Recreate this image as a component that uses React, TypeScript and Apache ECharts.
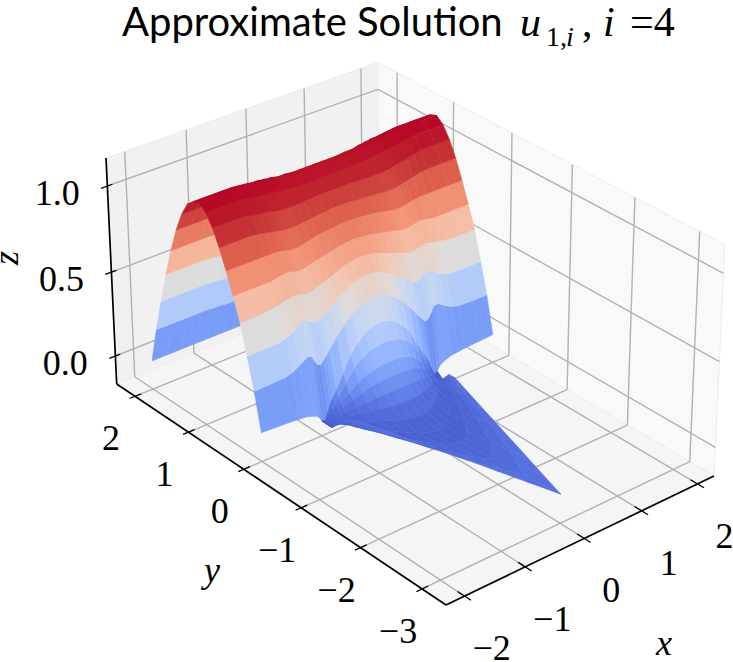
import React, { useEffect, useRef } from "react";
import * as echarts from "echarts";

const xTicks = [-2, -1, 0, 1, 2];
const yTicks = [-3, -2, -1, 0, 1, 2];
const zTicks = [0, 0.5, 1];
const xTickLabels = ["−2", "−1", "0", "1", "2"];
const yTickLabels = ["−3", "−2", "−1", "0", "1", "2"];
const zTickLabels = ["0.0", "0.5", "1.0"];

// |x| sample positions; the surface reads as mirror-symmetric about x = 0
const absX = [0, 0.125, 0.25, 0.375, 0.5, 0.625, 0.75, 0.8, 0.85, 0.9, 0.95, 1, 1.05, 1.12, 1.25, 1.375, 1.5, 1.75, 2];
const bandY = [2, 1.889, 1.778, 1.667, 1.556, 1.444, 1.333, 1.222, 1.111, 1, 0.889, 0.778, 0.667, 0.556, 0.444, 0.333, 0.222, 0.111, 0];
const bandZ = [
  [0, 0, 0, 0, 0, 0, 0, 0, 0, 0, 0, 0, 0, 0, 0, 0, 0, 0, 0],
  [0.2, 0.2, 0.2, 0.2, 0.2, 0.2, 0.2, 0.2, 0.2, 0.205, 0.205, 0.205, 0.205, 0.21, 0.21, 0.21, 0.21, 0.21, 0.21],
  [0.38, 0.38, 0.38, 0.38, 0.38, 0.38, 0.385, 0.385, 0.385, 0.39, 0.39, 0.39, 0.395, 0.395, 0.4, 0.4, 0.4, 0.4, 0.4],
  [0.55, 0.55, 0.55, 0.55, 0.55, 0.55, 0.555, 0.555, 0.56, 0.56, 0.565, 0.565, 0.57, 0.57, 0.575, 0.58, 0.58, 0.58, 0.58],
  [0.71, 0.71, 0.71, 0.71, 0.71, 0.71, 0.715, 0.715, 0.72, 0.72, 0.725, 0.725, 0.73, 0.73, 0.735, 0.74, 0.74, 0.74, 0.74],
  [0.85, 0.85, 0.85, 0.85, 0.85, 0.85, 0.855, 0.855, 0.86, 0.86, 0.865, 0.865, 0.87, 0.87, 0.875, 0.88, 0.88, 0.88, 0.88],
  [0.95, 0.95, 0.95, 0.95, 0.95, 0.955, 0.96, 0.96, 0.965, 0.965, 0.97, 0.97, 0.975, 0.975, 0.98, 0.985, 0.99, 0.99, 0.99],
  [1.025, 1.025, 1.025, 1.025, 1.03, 1.03, 1.035, 1.04, 1.04, 1.04, 1.045, 1.05, 1.05, 1.055, 1.06, 1.065, 1.07, 1.07, 1.07],
  [1.065, 1.065, 1.065, 1.065, 1.07, 1.07, 1.08, 1.08, 1.085, 1.085, 1.09, 1.09, 1.09, 1.095, 1.1, 1.105, 1.105, 1.105, 1.105],
  [1.08, 1.08, 1.08, 1.08, 1.085, 1.09, 1.095, 1.1, 1.1, 1.105, 1.105, 1.11, 1.11, 1.11, 1.115, 1.115, 1.12, 1.12, 1.12],
  [1.04, 1.04, 1.04, 1.04, 1.04, 1.045, 1.05, 1.05, 1.055, 1.055, 1.06, 1.06, 1.06, 1.065, 1.07, 1.08, 1.085, 1.085, 1.085],
  [0.98, 0.98, 0.98, 0.975, 0.975, 0.975, 0.975, 0.975, 0.975, 0.98, 0.98, 0.985, 0.99, 0.995, 1.0, 1.01, 1.02, 1.02, 1.02],
  [0.91, 0.91, 0.905, 0.905, 0.9, 0.895, 0.89, 0.89, 0.89, 0.89, 0.89, 0.895, 0.9, 0.905, 0.915, 0.925, 0.93, 0.93, 0.93],
  [0.84, 0.84, 0.835, 0.83, 0.825, 0.815, 0.805, 0.8, 0.8, 0.8, 0.8, 0.805, 0.81, 0.815, 0.82, 0.82, 0.82, 0.82, 0.82],
  [0.76, 0.755, 0.75, 0.74, 0.73, 0.72, 0.71, 0.705, 0.7, 0.7, 0.7, 0.705, 0.71, 0.715, 0.71, 0.7, 0.7, 0.7, 0.7],
  [0.68, 0.675, 0.665, 0.65, 0.63, 0.615, 0.6, 0.59, 0.585, 0.585, 0.59, 0.595, 0.6, 0.605, 0.595, 0.585, 0.575, 0.57, 0.57],
  [0.6, 0.59, 0.575, 0.55, 0.52, 0.49, 0.455, 0.44, 0.435, 0.44, 0.45, 0.465, 0.47, 0.465, 0.43, 0.41, 0.4, 0.4, 0.4],
  [0.49, 0.48, 0.46, 0.43, 0.39, 0.34, 0.28, 0.255, 0.235, 0.215, 0.22, 0.25, 0.285, 0.29, 0.26, 0.235, 0.225, 0.22, 0.22],
  [0.36, 0.35, 0.33, 0.29, 0.24, 0.15, 0.07, 0.04, 0.01, -0.04, -0.08, -0.08, -0.05, -0.035, -0.02, -0.015, -0.01, -0.005, 0],
];
// wedge below y = 0: each row runs corner to corner, reaching y = -depth at x = 0
const wedgeDepth = [0.08, 0.17, 0.27, 0.38, 0.5, 0.7, 1, 1.4, 1.9, 2.4, 3];
const wedgeZ = [
  [0.26, 0.25, 0.24, 0.21, 0.17, 0.1, 0.03, 0, -0.03, -0.06, -0.09, -0.08],
  [0.16, 0.16, 0.15, 0.13, 0.1, 0.05, 0.01, -0.01, -0.04, -0.07, -0.1, -0.08],
  [0.1, 0.1, 0.09, 0.08, 0.05, 0.02, -0.01, -0.03, -0.05, -0.07, -0.1, -0.08],
  [0.05, 0.05, 0.04, 0.03, 0.01, -0.01, -0.03, -0.05, -0.06, -0.08, -0.1, -0.08],
  [0, 0, -0.01, -0.01, -0.02, -0.03, -0.05, -0.06, -0.07, -0.08, -0.1, -0.08],
  [-0.05, -0.05, -0.05, -0.05, -0.05, -0.06, -0.06, -0.07, -0.07, -0.08, -0.1, -0.08],
  [-0.07, -0.07, -0.07, -0.07, -0.07, -0.07, -0.07, -0.07, -0.07, -0.08, -0.1, -0.08],
  [-0.06, -0.06, -0.06, -0.06, -0.06, -0.06, -0.06, -0.06, -0.06, -0.07, -0.1, -0.08],
  [-0.04, -0.04, -0.04, -0.04, -0.04, -0.04, -0.04, -0.04, -0.04, -0.05, -0.1, -0.08],
  [-0.02, -0.02, -0.02, -0.02, -0.02, -0.02, -0.02, -0.02, -0.02, -0.03, -0.09, -0.08],
  [0, 0, 0, 0, 0, 0, 0, 0, 0, -0.02, -0.09, -0.08],
];

const coolwarm = [
  [59, 76, 192], [85, 112, 222], [123, 159, 249], [160, 190, 254], [192, 212, 245], [221, 220, 220],
  [245, 196, 173], [244, 152, 122], [222, 97, 77], [192, 40, 47], [180, 4, 38],
];
const colorRange = [-0.14, 1.12];
const xLim = [-2.3, 2.3];
const yLim = [-3.38, 2.35];
const zLim = [-0.17, 1.16];

// camera: floor corners on the page and the vanishing point of vertical lines
const F = [446, 605], R = [714, 476], B = [379, 279], L = [116.7, 384];
const VP = [418, 6750];
const leftTopY = 158;

const dx1 = R[0] - B[0], dx2 = L[0] - B[0], sx = F[0] - R[0] + B[0] - L[0];
const dy1 = R[1] - B[1], dy2 = L[1] - B[1], sy = F[1] - R[1] + B[1] - L[1];
const den = dx1 * dy2 - dx2 * dy1;
const g = (sx * dy2 - dx2 * sy) / den;
const h = (dx1 * sy - sx * dy1) / den;
const a = R[0] - F[0] + g * R[0], b = L[0] - F[0] + h * L[0], c = F[0];
const d = R[1] - F[1] + g * R[1], e = L[1] - F[1] + h * L[1], f = F[1];
const K = ((1 + h) * (leftTopY - L[1])) / (VP[1] - leftTopY);

function homog(x: number, y: number, z: number) {
  const u = (x - xLim[0]) / (xLim[1] - xLim[0]);
  const v = (y - yLim[0]) / (yLim[1] - yLim[0]);
  const t = (z - zLim[0]) / (zLim[1] - zLim[0]);
  return [a * u + b * v + c + t * K * VP[0], d * u + e * v + f + t * K * VP[1], 1 + g * u + h * v + t * K];
}
function project(x: number, y: number, z: number) {
  const p = homog(x, y, z);
  return [p[0] / p[2], p[1] / p[2]];
}
function colorOf(z: number) {
  const s = Math.max(0, Math.min(1, (z - colorRange[0]) / (colorRange[1] - colorRange[0]))) * (coolwarm.length - 1);
  const i = Math.min(coolwarm.length - 2, Math.floor(s));
  const m = s - i;
  const q = coolwarm[i].map((v, k) => Math.round(v + (coolwarm[i + 1][k] - v) * m));
  return `rgb(${q[0]},${q[1]},${q[2]})`;
}

type P3 = [number, number, number];
function buildFacets() {
  const signed = [...absX.slice(1).reverse().map((v, i) => ({ x: -v, k: absX.length - 1 - i })), ...absX.map((v, k) => ({ x: v, k }))];
  const out: { pts: P3[]; color: string; depth: number }[] = [];
  const push = (pts: P3[]) => {
    const mean = pts.reduce((s, p) => s + p[2], 0) / 4;
    const depth = pts.reduce((s, p) => s + homog(p[0], p[1], p[2])[2], 0);
    out.push({ pts, color: colorOf(mean), depth });
  };
  for (let r = 0; r < bandY.length - 1; r++) {
    for (let i = 0; i < signed.length - 1; i++) {
      const A = signed[i], C = signed[i + 1];
      push([
        [A.x, bandY[r], bandZ[r][A.k]],
        [C.x, bandY[r], bandZ[r][C.k]],
        [C.x, bandY[r + 1], bandZ[r + 1][C.k]],
        [A.x, bandY[r + 1], bandZ[r + 1][A.k]],
      ]);
    }
  }
  const inner = signed.filter((s) => Math.abs(s.x) <= 1);
  const rowZ = [bandZ[bandZ.length - 1], ...wedgeZ];
  const rowD = [0, ...wedgeDepth];
  // rows are rounded near y = 0 and become the straight wedge edges at the tip
  const yAt = (s: { x: number }, dep: number) => -dep * (1 - Math.pow(Math.abs(s.x), 2 - dep / 3));
  for (let r = 0; r < rowD.length - 1; r++) {
    for (let i = 0; i < inner.length - 1; i++) {
      const A = inner[i], C = inner[i + 1];
      push([
        [A.x, yAt(A, rowD[r]), rowZ[r][A.k]],
        [C.x, yAt(C, rowD[r]), rowZ[r][C.k]],
        [C.x, yAt(C, rowD[r + 1]), rowZ[r + 1][C.k]],
        [A.x, yAt(A, rowD[r + 1]), rowZ[r + 1][A.k]],
      ]);
    }
  }
  return out.sort((p, q) => q.depth - p.depth);
}

const GRID = "#b2b2b2";

export default function App() {
  const ref = useRef<HTMLDivElement>(null);
  useEffect(() => {
    document.body.style.margin = "0";
    const chart = echarts.init(ref.current!, undefined, { renderer: "svg" });
    const [x0, x1] = xLim, [y0, y1] = yLim, [z0, z1] = zLim;

    const panes = [
      { pts: [[x0, y1, z0], [x1, y1, z0], [x1, y1, z1], [x0, y1, z1]], fill: "#f1f1f1" },
      { pts: [[x1, y1, z0], [x1, y0, z0], [x1, y0, z1], [x1, y1, z1]], fill: "#f9f9f9" },
      { pts: [[x0, y0, z0], [x1, y0, z0], [x1, y1, z0], [x0, y1, z0]], fill: "#f5f5f5" },
    ];
    const gridLines: number[][][] = [];
    xTicks.forEach((t) => {
      gridLines.push([[t, y0, z0], [t, y1, z0]], [[t, y1, z0], [t, y1, z1]]);
    });
    yTicks.forEach((t) => {
      gridLines.push([[x0, t, z0], [x1, t, z0]], [[x1, t, z0], [x1, t, z1]]);
    });
    zTicks.forEach((t) => {
      gridLines.push([[x0, y1, t], [x1, y1, t]], [[x1, y1, t], [x1, y0, t]]);
    });
    const axisLines = [
      [[x0, y0, z0], [x0, y1, z0]],
      [[x0, y0, z0], [x1, y0, z0]],
      [[x0, y1, z0], [x0, y1, z1]],
    ];
    const tickLines: number[][][] = [];
    xTicks.forEach((t) => tickLines.push([[t, y0 - 0.1, z0], [t, y0 + 0.11, z0]]));
    yTicks.forEach((t) => tickLines.push([[x0 - 0.09, t, z0], [x0 + 0.1, t, z0]]));
    zTicks.forEach((t) => tickLines.push([[x0 - 0.1, y1, t], [x0 + 0.08, y1, t]]));

    const labels: { text: string; at: number[]; off: number[]; italic?: boolean; rot?: number }[] = [];
    xTicks.forEach((t, i) => labels.push({ text: xTickLabels[i], at: [t, y0, z0], off: [27, 52] }));
    yTicks.forEach((t, i) => labels.push({ text: yTickLabels[i], at: [x0, t, z0], off: [-24, 42] }));
    zTicks.forEach((t, i) => labels.push({ text: zTickLabels[i], at: [x0, y1, t], off: [-50, 7] }));
    labels.push({ text: "x", at: [x1, y0, z0], off: [-50, 167], italic: true });
    labels.push({ text: "y", at: [x0, y0, z0], off: [-234, -35], italic: true });
    labels.push({ text: "z", at: [x0, y1, z1], off: [-100, 100], italic: true, rot: Math.PI / 2 });

    const facets = buildFacets();
    const idx = (arr: unknown[]) => arr.map((_, i) => [i]);
    const proj = (api: any, p: number[]) => api.coord(project(p[0], p[1], p[2]));
    const lineItem = (api: any, l: number[][], stroke: string, lineWidth: number) => {
      const s = proj(api, l[0]), t = proj(api, l[1]);
      return { type: "line", shape: { x1: s[0], y1: s[1], x2: t[0], y2: t[1] }, style: { stroke, lineWidth, lineCap: "butt" } };
    };
    const custom = (data: unknown[], renderItem: any) => ({
      type: "custom", coordinateSystem: "cartesian2d", data: idx(data), renderItem, silent: true,
      progressive: 0, clip: false, encode: { x: 0, y: 0 },
    });
    // y is the text baseline
    const mathText = (text: string, x: number, y: number, size: number, italic: boolean) => ({
      type: "text", x, y: y - 0.34 * size,
      style: { text, font: `${italic ? "italic " : ""}${size}px 'Liberation Serif'`, fill: "#000", verticalAlign: "middle" },
    });

    chart.setOption({
      animation: false,
      backgroundColor: "#ffffff",
      title: {
        text: "Approximate Solution", left: 117, top: -4,
        textStyle: { fontFamily: "Lato", fontWeight: "normal", fontSize: 40, color: "#000" },
      },
      graphic: [
        mathText("u", 520, 36, 42, true),
        mathText("1,", 546, 46, 28, false),
        mathText("i", 566, 46, 28, true),
        mathText(",", 582, 36, 42, false),
        mathText("i", 603, 36, 42, true),
        mathText("=4", 630, 36, 42, false),
      ],
      grid: { left: 0, right: 0, top: 0, bottom: 0 },
      xAxis: { type: "value", min: 0, max: 733, show: false },
      yAxis: { type: "value", min: 0, max: 662, inverse: true, show: false },
      series: [
        custom(panes, (p: any, api: any) => ({
          type: "polygon",
          shape: { points: panes[p.dataIndex].pts.map((q) => proj(api, q)) },
          style: { fill: panes[p.dataIndex].fill, stroke: "#ececec", lineWidth: 1 },
        })),
        custom(gridLines, (p: any, api: any) => lineItem(api, gridLines[p.dataIndex], GRID, 1.4)),
        custom(axisLines, (p: any, api: any) => lineItem(api, axisLines[p.dataIndex], "#000", 1.7)),
        custom(tickLines, (p: any, api: any) => lineItem(api, tickLines[p.dataIndex], "#000", 1.3)),
        custom(facets, (p: any, api: any) => {
          const fc = facets[p.dataIndex];
          return {
            type: "polygon",
            shape: { points: fc.pts.map((q) => proj(api, q)) },
            style: { fill: fc.color, stroke: fc.color, lineWidth: 0.5 },
          };
        }),
        custom(labels, (p: any, api: any) => {
          const lb = labels[p.dataIndex];
          const q = proj(api, lb.at);
          return {
            type: "text",
            x: q[0] + lb.off[0],
            y: q[1] + lb.off[1],
            rotation: lb.rot || 0,
            style: {
              text: lb.text, fontFamily: "Liberation Serif", fontSize: 36, fontStyle: lb.italic ? "italic" : "normal",
              fill: "#000", align: "center", verticalAlign: "middle",
            },
          };
        }),
      ],
    });
    return () => chart.dispose();
  }, []);
  return <div ref={ref} style={{ width: 733, height: 662 }} />;
}
